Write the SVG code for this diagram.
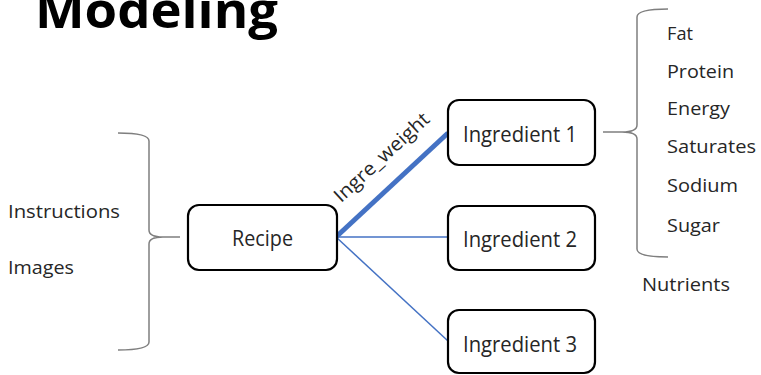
<svg xmlns="http://www.w3.org/2000/svg" width="761" height="375" viewBox="0 0 761 375">
  <style>
    .box { fill: #ffffff; stroke: #000000; stroke-width: 2.2; }
    .lbl { font-family: "Open Sans", "Liberation Sans", sans-serif; fill: #262626; }
    .node-text { font-size: 21px; text-anchor: middle; }
    .side { font-size: 18.5px; }
    .brace { fill: none; stroke: #7f7f7f; stroke-width: 1.5; }
    .edge { stroke: #4472c4; fill: none; }
  </style>
  <rect width="761" height="375" fill="#ffffff"/>

  <!-- heading -->
  <text x="35" y="28" font-family="'Open Sans', 'Liberation Sans', sans-serif" font-weight="bold" font-size="50" fill="#000000" textLength="243" lengthAdjust="spacingAndGlyphs">Modeling</text>

  <!-- recipe attributes -->
  <g id="attributes">
    <path class="brace" d="M118,133 Q149,133 149,141 L149,230 Q149,237 163,237 L180,237 M163,237 Q149,237 149,244 L149,342 Q149,350 118,350"/>
    <text class="lbl side" x="8" y="217.5" textLength="112" lengthAdjust="spacingAndGlyphs">Instructions</text>
    <text class="lbl side" x="8" y="273.5" textLength="66" lengthAdjust="spacingAndGlyphs">Images</text>
  </g>

  <!-- connectors -->
  <g id="connectors">
    <line class="edge" x1="336" y1="237" x2="448" y2="133" stroke-width="5"/>
    <line class="edge" x1="336" y1="237" x2="448" y2="237" stroke-width="1.5"/>
    <line class="edge" x1="336" y1="237" x2="448" y2="341" stroke-width="1.5"/>
    <text class="lbl" font-size="19" text-anchor="middle" textLength="122" lengthAdjust="spacingAndGlyphs" transform="translate(386,162) rotate(-42.6)">Ingre_weight</text>
  </g>

  <g id="recipe">
    <rect class="box" x="188" y="205" width="149" height="65" rx="11"/>
    <text class="lbl node-text" x="262.5" y="246" textLength="61" lengthAdjust="spacingAndGlyphs">Recipe</text>
  </g>

  <g id="ingredient1">
    <rect class="box" x="448" y="100" width="147" height="65" rx="11"/>
    <text class="lbl node-text" x="520" y="142" textLength="114" lengthAdjust="spacingAndGlyphs">Ingredient 1</text>
  </g>

  <g id="ingredient2">
    <rect class="box" x="448" y="206" width="147" height="64" rx="11"/>
    <text class="lbl node-text" x="520" y="247" textLength="114" lengthAdjust="spacingAndGlyphs">Ingredient 2</text>
  </g>

  <g id="ingredient3">
    <rect class="box" x="448" y="310" width="147" height="63" rx="11"/>
    <text class="lbl node-text" x="520" y="352" textLength="114" lengthAdjust="spacingAndGlyphs">Ingredient 3</text>
  </g>

  <!-- nutrient list -->
  <g id="nutrients">
    <path class="brace" d="M668,9 Q637,9 637,17 L637,125 Q637,132 622,132 L603,132 M622,132 Q637,132 637,139 L637,249 Q637,257 668,257"/>
    <text class="lbl side" x="667" y="40" textLength="26" lengthAdjust="spacingAndGlyphs">Fat</text>
    <text class="lbl side" x="667" y="78" textLength="67" lengthAdjust="spacingAndGlyphs">Protein</text>
    <text class="lbl side" x="667" y="115" textLength="63" lengthAdjust="spacingAndGlyphs">Energy</text>
    <text class="lbl side" x="667" y="153" textLength="89" lengthAdjust="spacingAndGlyphs">Saturates</text>
    <text class="lbl side" x="667" y="192" textLength="71" lengthAdjust="spacingAndGlyphs">Sodium</text>
    <text class="lbl side" x="667" y="232" textLength="53" lengthAdjust="spacingAndGlyphs">Sugar</text>
    <text class="lbl side" x="642" y="291" textLength="88" lengthAdjust="spacingAndGlyphs">Nutrients</text>
  </g>
</svg>
